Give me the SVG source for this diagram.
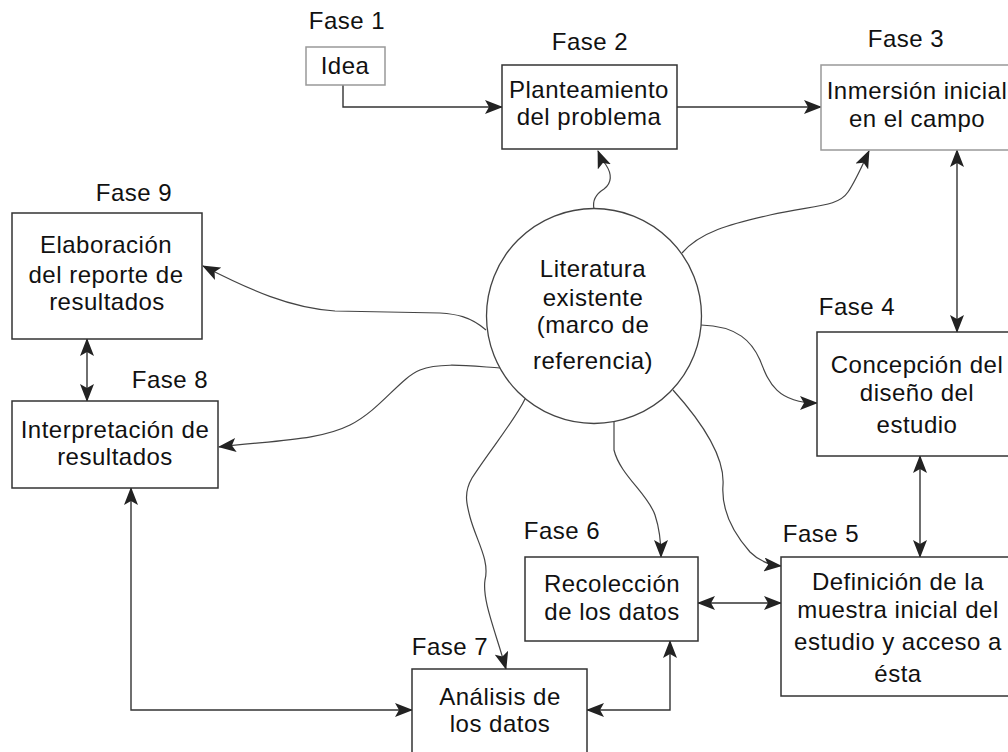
<svg xmlns="http://www.w3.org/2000/svg" width="1008" height="752" viewBox="0 0 1008 752">
<style>
text{font-family:"Liberation Sans",Arial,sans-serif;font-size:24px;letter-spacing:0.5px;fill:#111;text-anchor:middle}
.box{fill:#fff;stroke:#333;stroke-width:1.5}
.lbox{fill:#fff;stroke:#999;stroke-width:1.5}
.ln{fill:none;stroke:#333;stroke-width:1.4}
.cv{fill:none;stroke:#444;stroke-width:1.2}
.a1{marker-end:url(#ah)}
.a2{marker-end:url(#ah);marker-start:url(#ah)}
</style>
<defs>
<marker id="ah" viewBox="0 0 18 14" refX="17" refY="7" markerWidth="18" markerHeight="14" markerUnits="userSpaceOnUse" orient="auto-start-reverse">
<path d="M0,0 L18,7 L0,14 L4,7 Z" fill="#222"/>
</marker>
</defs>
<rect width="1008" height="752" fill="#fff"/>

<g id="connectors">
<path class="ln a1" d="M343,85 V107 H502"/>
<path class="ln a1" d="M677,107 H821"/>
<path class="ln a2" d="M957,150 V332"/>
<path class="ln a2" d="M920,456 V557"/>
<path class="ln a2" d="M698,603 H781"/>
<path class="ln a2" d="M587,710 H670 V641"/>
<path class="ln a2" d="M131,488 V710 H412"/>
<path class="ln a2" d="M87,339 V401"/>
<path class="cv a1" d="M594,209 C592,200 596,194 604,189 C612,183 612,174 606,165 C602,160 600,156 598,151"/>
<path class="cv a1" d="M682,253 C700,232 730,224 770,215 C815,205 838,207 848,192 C856,180 862,166 869,151"/>
<path class="cv a1" d="M701,325 C738,326 752,342 760,360 C768,380 775,403 817,403"/>
<path class="cv a1" d="M673,390 C700,420 725,455 723,485 C721,512 735,535 750,552 C760,562 770,565 781,566"/>
<path class="cv a1" d="M614,421 L614,450 C620,475 648,494 655,515 C660,530 661,545 661,557"/>
<path class="cv a1" d="M525,399 C515,420 490,450 472,478 C464,492 466,502 470,517 C476,540 490,560 485,580 C482,600 495,630 506,669"/>
<path class="cv a1" d="M500,368 C470,366 440,362 420,370 C400,378 380,410 350,425 C320,440 280,440 219,447"/>
<path class="cv a1" d="M486,330 C470,316 455,314 440,313 L335,311 C290,308 250,290 203,266"/>
</g>

<g id="fase1">
<text x="347" y="29">Fase 1</text>
<rect class="lbox" x="306" y="47" width="79" height="38"/>
<text x="345" y="74">Idea</text>
</g>

<g id="fase2">
<text x="590" y="50">Fase 2</text>
<rect class="box" x="502" y="65" width="175" height="84"/>
<text x="589" y="98">Planteamiento</text>
<text x="589" y="125">del problema</text>
</g>

<g id="fase3">
<text x="906" y="47">Fase 3</text>
<rect class="lbox" x="821" y="65" width="192" height="85"/>
<text x="917" y="99">Inmersión inicial</text>
<text x="917" y="127">en el campo</text>
</g>

<g id="literatura">
<circle cx="594" cy="316" r="107.5" fill="#fff" stroke="#444" stroke-width="1.3"/>
<text x="593" y="277">Literatura</text>
<text x="593" y="306">existente</text>
<text x="593" y="333">(marco de</text>
<text x="593" y="369">referencia)</text>
</g>

<g id="fase4">
<text x="857" y="315">Fase 4</text>
<rect class="box" x="817" y="332" width="200" height="124"/>
<text x="917" y="373">Concepción del</text>
<text x="917" y="401">diseño del</text>
<text x="917" y="433">estudio</text>
</g>

<g id="fase5">
<text x="821" y="542">Fase 5</text>
<rect class="box" x="781" y="557" width="234" height="139"/>
<text x="898" y="590">Definición de la</text>
<text x="898" y="618">muestra inicial del</text>
<text x="898" y="650">estudio y acceso a</text>
<text x="898" y="682">ésta</text>
</g>

<g id="fase6">
<text x="562" y="539">Fase 6</text>
<rect class="box" x="525" y="557" width="173" height="84"/>
<text x="612" y="592">Recolección</text>
<text x="612" y="620">de los datos</text>
</g>

<g id="fase7">
<text x="450" y="655">Fase 7</text>
<rect class="box" x="412" y="669" width="175" height="100"/>
<text x="500" y="705">Análisis de</text>
<text x="500" y="732">los datos</text>
</g>

<g id="fase8">
<text x="170" y="388">Fase 8</text>
<rect class="box" x="12" y="401" width="206" height="87"/>
<text x="115" y="438">Interpretación de</text>
<text x="115" y="465">resultados</text>
</g>

<g id="fase9">
<text x="134" y="201">Fase 9</text>
<rect class="box" x="12" y="213" width="190" height="126"/>
<text x="106" y="253">Elaboración</text>
<text x="106" y="283">del reporte de</text>
<text x="107" y="310">resultados</text>
</g>
</svg>
